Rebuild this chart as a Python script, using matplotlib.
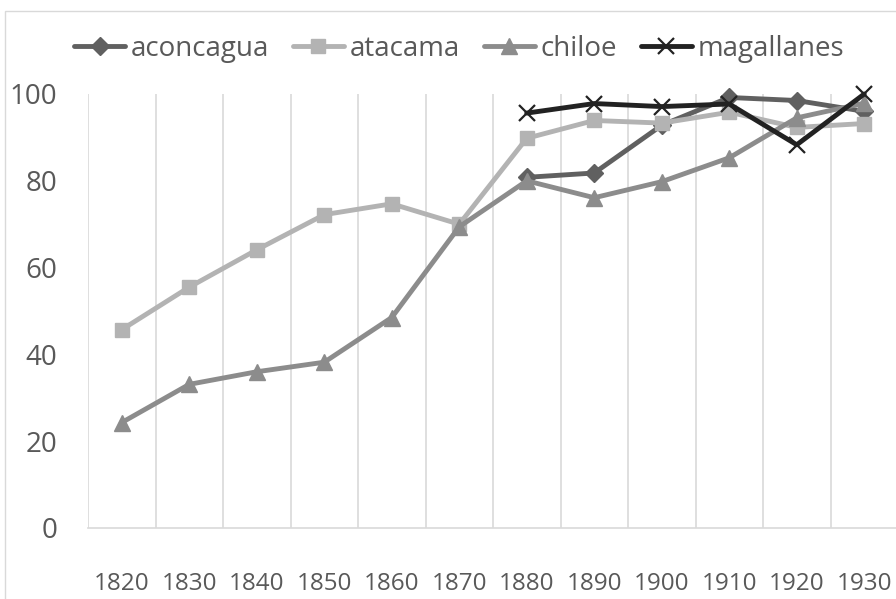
import numpy as np
import matplotlib
matplotlib.use("Agg")
import matplotlib.pyplot as plt
from matplotlib.patches import Rectangle

plt.rcParams['font.family'] = ['Open Sans', 'DejaVu Sans']

years = [1820, 1830, 1840, 1850, 1860, 1870, 1880, 1890, 1900, 1910, 1920, 1930]
nan = np.nan
aconcagua = [nan, nan, nan, nan, nan, nan, 80.8, 81.8, 92.8, 99.2, 98.5, 96.0]
atacama = [45.7, 55.5, 64.1, 72.2, 74.7, 70.0, 89.8, 93.9, 93.3, 95.8, 92.3, 93.2]
chiloe = [24.3, 33.1, 36.0, 38.2, 48.5, 69.4, 80.0, 76.1, 79.8, 85.3, 94.5, 97.9]
magallanes = [nan, nan, nan, nan, nan, nan, 95.6, 97.8, 97.1, 97.7, 88.3, 100.0]

W, H = 896, 599
fig = plt.figure(figsize=(W / 100, H / 100), dpi=100)

# chart-area border
fig.patches.append(Rectangle((5 / W, -0.1), 1.2, 1 - 11 / H + 0.1,
                             transform=fig.transFigure, fill=False,
                             edgecolor='#d9d9d9', linewidth=1.0, zorder=0))

ax = fig.add_axes([88 / W, 1 - 528 / H, 810 / W, (528 - 94) / H])
x = np.arange(len(years))

series = [
    ("aconcagua", aconcagua, '#606060', 'D', 9, 1.0),
    ("atacama", atacama, '#b3b3b3', 's', 10.5, 1.0),
    ("chiloe", chiloe, '#8c8c8c', '^', 11, 1.0),
    ("magallanes", magallanes, '#222222', 'x', 12, 1.6),
]
for name, vals, col, mk, ms, mew in series:
    ax.plot(x, vals, color=col, lw=3.5, marker=mk, markersize=ms,
            markerfacecolor=col, markeredgecolor=col, markeredgewidth=mew,
            label=name, solid_capstyle='round', solid_joinstyle='round',
            clip_on=False)

ax.set_xlim(-0.5, len(years) - 0.5)
ax.set_ylim(0, 100)

ax.set_xticks(x)
ax.set_xticklabels([str(y) for y in years])
ax.set_xticks(np.arange(-0.5, len(years), 1.0), minor=True)
ax.grid(True, axis='x', which='minor', color='#d9d9d9', lw=1.2)
ax.grid(False, axis='x', which='major')
ax.set_yticks(np.arange(0, 101, 20))

ax.tick_params(axis='x', which='both', length=0, pad=32, labelsize=17.5,
               labelcolor='#595959')
ax.tick_params(axis='y', length=0, pad=22, labelsize=20, labelcolor='#595959')

for s in ['top', 'right', 'left']:
    ax.spines[s].set_visible(False)
ax.spines['bottom'].set_color('#d9d9d9')
ax.spines['bottom'].set_linewidth(1.2)

leg = fig.legend(loc='center', bbox_to_anchor=(459 / W, 1 - 49 / H), ncol=4,
                 frameon=False, fontsize=20, handlelength=1.85,
                 handletextpad=0.2, columnspacing=0.85, borderaxespad=0)
for t in leg.get_texts():
    t.set_color('#595959')

fig.savefig("out.png", dpi=100)
